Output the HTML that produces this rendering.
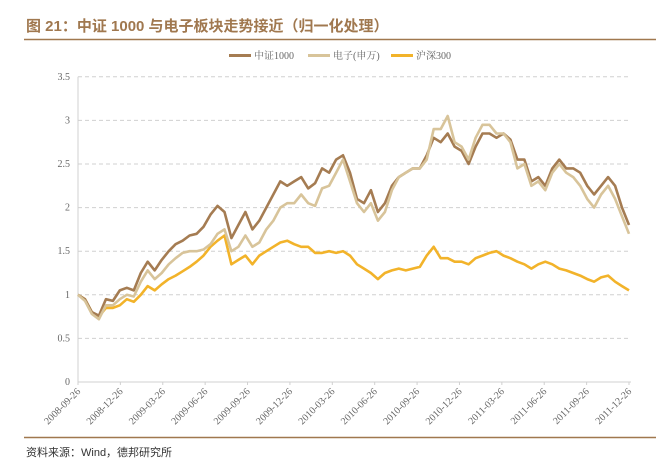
<!DOCTYPE html>
<html><head><meta charset="utf-8"><style>
body{margin:0;background:#fff;width:658px;height:467px;overflow:hidden;font-family:"Liberation Sans","Noto Sans CJK SC",sans-serif}
</style></head><body>
<svg width="658" height="467">
<text x="26" y="31" font-size="15" font-weight="bold" fill="#a0784f" font-family="Liberation Sans, Noto Sans CJK SC, sans-serif">图 21：中证 1000 与电子板块走势接近（归一化处理）</text>
<line x1="24" y1="39.5" x2="656" y2="39.5" stroke="#a0784f" stroke-width="1.5"/>
<g id="legend" font-size="10" fill="#666" font-family="Liberation Serif, Noto Serif CJK SC, serif">
<g><line x1="229" y1="55.5" x2="251" y2="55.5" stroke="#a57c52" stroke-width="3"/><text x="254" y="59">中证1000</text></g>
<g><line x1="308" y1="55.5" x2="330" y2="55.5" stroke="#d8c49a" stroke-width="3"/><text x="333" y="59">电子(申万)</text></g>
<g><line x1="391" y1="55.5" x2="413" y2="55.5" stroke="#f2b32a" stroke-width="3"/><text x="416" y="59">沪深300</text></g>
</g>
<g id="grid"></g><g id="axes"></g><g id="series"></g>
<line x1="24" y1="437.5" x2="656" y2="437.5" stroke="#a0784f" stroke-width="1.5"/>
<text x="26" y="456" font-size="11" fill="#333">资料来源：Wind，德邦研究所</text>
</svg>
<script>
const yTicks=[0,0.5,1,1.5,2,2.5,3,3.5];
const yTickLabels=["0","0.5","1","1.5","2","2.5","3","3.5"];
const xTickLabels=["2008-09-26","2008-12-26","2009-03-26","2009-06-26","2009-09-26","2009-12-26","2010-03-26","2010-06-26","2010-09-26","2010-12-26","2011-03-26","2011-06-26","2011-09-26","2011-12-26"];
const csi1000=[1.00,0.95,0.80,0.76,0.95,0.93,1.05,1.08,1.05,1.25,1.38,1.28,1.40,1.50,1.58,1.62,1.68,1.70,1.78,1.92,2.02,1.95,1.65,1.80,1.95,1.75,1.85,2.00,2.15,2.30,2.25,2.30,2.35,2.22,2.28,2.45,2.40,2.55,2.60,2.40,2.10,2.05,2.20,1.95,2.05,2.25,2.35,2.40,2.45,2.45,2.60,2.80,2.75,2.85,2.70,2.65,2.50,2.70,2.85,2.85,2.80,2.85,2.78,2.55,2.55,2.30,2.35,2.25,2.45,2.55,2.45,2.45,2.40,2.25,2.15,2.25,2.35,2.25,2.00,1.80];
const electronics=[1.00,0.93,0.78,0.72,0.88,0.88,0.95,1.00,0.98,1.15,1.28,1.18,1.25,1.35,1.42,1.48,1.50,1.50,1.52,1.58,1.70,1.75,1.50,1.55,1.68,1.55,1.60,1.75,1.85,2.00,2.05,2.05,2.15,2.05,2.02,2.22,2.25,2.40,2.55,2.30,2.05,1.95,2.05,1.85,1.95,2.20,2.35,2.40,2.45,2.45,2.55,2.90,2.90,3.05,2.75,2.70,2.55,2.80,2.95,2.95,2.85,2.85,2.75,2.45,2.50,2.25,2.30,2.20,2.40,2.50,2.40,2.35,2.25,2.10,2.00,2.15,2.25,2.10,1.90,1.70];
const hs300=[1.00,0.95,0.80,0.75,0.85,0.85,0.88,0.95,0.92,1.00,1.10,1.05,1.12,1.18,1.22,1.27,1.32,1.38,1.45,1.55,1.62,1.68,1.35,1.40,1.45,1.35,1.45,1.50,1.55,1.60,1.62,1.58,1.55,1.55,1.48,1.48,1.50,1.48,1.50,1.45,1.35,1.30,1.25,1.18,1.25,1.28,1.30,1.28,1.30,1.32,1.45,1.55,1.42,1.42,1.38,1.38,1.35,1.42,1.45,1.48,1.50,1.45,1.42,1.38,1.35,1.30,1.35,1.38,1.35,1.30,1.28,1.25,1.22,1.18,1.15,1.20,1.22,1.15,1.10,1.05];
const NS="http://www.w3.org/2000/svg";
const X0=78,X1=629,Y0=382,YPU=87.2;
const y=v=>Y0-v*YPU;
const xi=(i,n)=>X0+i*(X1-X0)/(n-1);
function mk(t,a,p){const e=document.createElementNS(NS,t);for(const k in a)e.setAttribute(k,a[k]);p.appendChild(e);return e;}
const grid=document.getElementById('grid'),axes=document.getElementById('axes'),ser=document.getElementById('series');
yTicks.forEach((v,i)=>{
  if(v>0){const g=mk('line',{x1:X0,x2:631,y1:y(v),y2:y(v),stroke:'#d0d0d0','stroke-dasharray':'4,3'},grid);
  
  }
  const t=mk('text',{x:70,y:y(v)+3,'font-size':10,fill:'#666','text-anchor':'end','font-family':'Liberation Serif, serif'},axes);
  t.textContent=yTickLabels[i];
  
  
});
const ya=mk('line',{x1:X0,x2:X0,y1:y(3.5),y2:Y0,stroke:'#d0d0d0'},axes);


const xa=mk('line',{x1:X0,x2:631,y1:Y0,y2:Y0,stroke:'#d0d0d0'},axes);


xTickLabels.forEach((s,i)=>{
  const px=xi(i,xTickLabels.length);
  mk('line',{x1:px,x2:px,y1:Y0,y2:Y0+3,stroke:'#d0d0d0'},axes);
  const t=mk('text',{x:px+3,y:Y0+10,'font-size':10,fill:'#666','text-anchor':'end','font-family':'Liberation Serif, serif',transform:`rotate(-45 ${px+3} ${Y0+10})`},axes);
  t.textContent=s;
  
  
});
[[hs300,'#f2b32a','line-hs300'],[csi1000,'#a57c52','line-csi1000'],[electronics,'#d8c49a','line-electronics']].forEach(([d,c,n])=>{
  const pts=d.map((v,i)=>xi(i,d.length).toFixed(1)+','+y(v).toFixed(1)).join(' ');
  const p=mk('polyline',{points:pts,fill:'none',stroke:c,'stroke-width':2.6,'stroke-linejoin':'round'},ser);
  
  
});
</script>
</body></html>
